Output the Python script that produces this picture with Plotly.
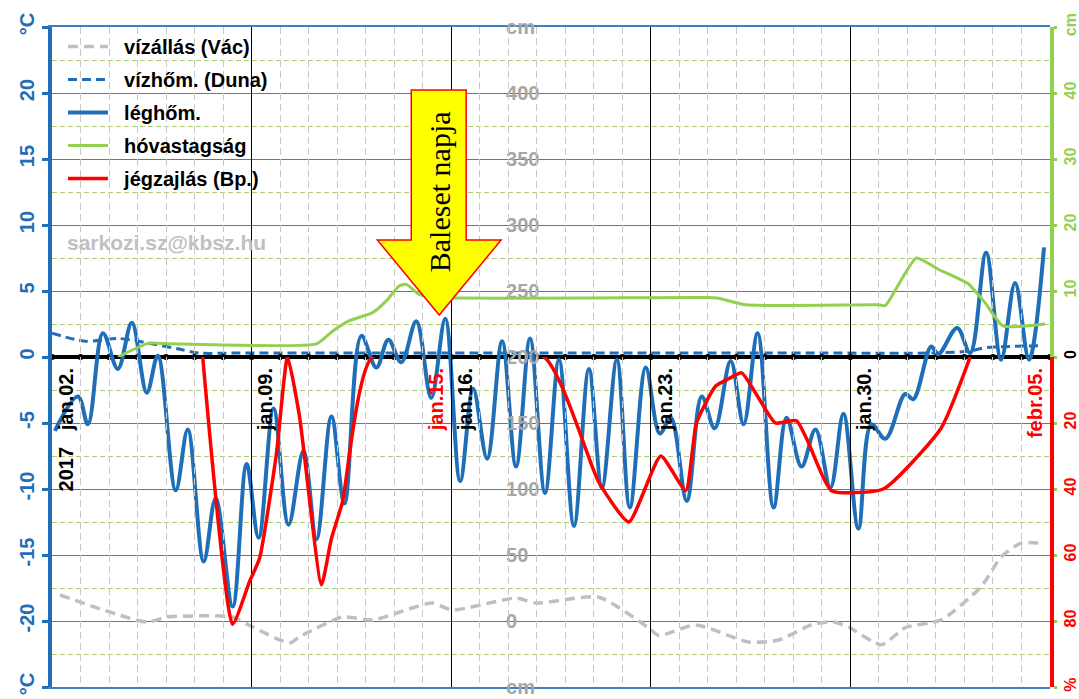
import plotly.graph_objects as go

# ---------------- data (x = day of January 2017, fractional) ----------------
air_day = [2.1, 2.91, 3.26, 3.785, 4.31, 4.80, 5.325, 5.71, 6.34, 6.76, 7.32, 7.74, 8.335, 8.825,
           9.245, 9.77, 10.295, 10.82, 11.275, 11.80, 12.255, 12.85, 13.375, 13.795, 14.25, 14.775,
           15.30, 15.79, 16.315, 16.77, 17.26, 17.785, 18.275, 18.765, 19.29, 19.78, 20.305, 20.83,
           21.285, 21.81, 22.265, 22.825, 23.315, 23.70, 24.26, 24.785, 25.24, 25.80, 26.255, 26.745,
           27.305, 27.76, 28.285, 28.775, 29.30, 29.755, 30.28, 30.735, 31.225, 31.925, 32.205, 32.835,
           33.08, 33.745, 34.20, 34.76, 35.285, 35.775, 36.265, 36.79]
air_temp = [-5.6, -3.0, -5.1, 1.8, -0.9, 2.6, -2.7, 0.1, -10.1, -5.5, -15.5, -10.7, -18.9, -8.1,
            -13.7, -3.9, -12.7, -7.1, -13.8, -4.5, -11.1, 1.6, -0.8, 1.3, -0.4, 2.7,
            -3.1, 2.9, -9.4, -2.4, -7.7, 1.2, -8.3, 1.4, -10.3, -0.2, -12.8, -0.9,
            -9.9, -0.2, -11.4, -0.8, -5.8, -4.6, -10.9, -3.0, -5.4, -0.3, -5.1, 1.8,
            -11.4, -4.6, -8.3, -5.5, -9.9, -4.3, -13.0, -5.1, -6.2, -2.8, -3.2, 0.8,
            0.2, 2.2, 0.3, 7.9, -0.2, 5.6, -0.2, 8.3]

water_temp_day = [2.0, 3.155, 4.345, 5.5, 6.445, 7.145, 8.5, 15.0, 22.0, 29.0, 32.8, 34.2, 34.7, 36.6]
water_temp = [1.8, 1.2, 1.4, 1.0, 0.6, 0.3, 0.3, 0.3, 0.3, 0.3, 0.3, 0.45, 0.7, 0.85]

snow_day = [4.31, 5.395, 6.13, 11.275, 11.835, 12.43, 13.235, 13.725, 14.18, 14.425, 14.88, 15.58,
            25.03, 25.38, 26.325, 30.98, 31.225, 32.31, 33.08, 34.13, 34.725, 35.355, 36.825]
snow_cm = [0, 2.1, 2.0, 2.0, 3.9, 5.5, 6.7, 8.5, 10.8, 11.0, 9.5, 9.0,
           9.0, 8.9, 7.9, 7.9, 7.8, 15.0, 13.3, 11.1, 8.2, 4.7, 5.0]

ice_day = [7.285, 8.335, 8.93, 9.28, 9.875, 10.26, 10.68, 11.45, 11.80, 12.185, 13.235, 19.255,
           21.18, 22.23, 23.35, 24.225, 24.6, 25.275, 25.73, 26.185, 26.78, 27.375, 28.11, 28.53,
           29.335, 31.155, 33.185, 34.20]
ice_pct = [0, 81, 68, 61, 29, 0, 18, 69, 55, 44, 0, 0,
           38, 50, 30, 40.5, 20, 8.8, 6.6, 4.8, 12.4, 20, 19.3, 26,
           40.5, 40, 21.5, 0]

level_day = [2.28, 5.325, 6.025, 8.335, 9.035, 10.33, 10.68, 12.185, 13.235, 15.335, 16.035, 18.275,
             18.975, 21.18, 22.93, 23.28, 24.575, 26.43, 27.48, 28.705, 29.405, 29.93, 31.085, 31.925,
             33.185, 34.585, 35.285, 35.985, 36.685]
level_cm = [19.7, -0.8, 3, 3, -4.5, -16.7, -12, 3, 0.8, 13.6, 8.3, 17.4,
            13.6, 18, -5.3, -11, -3, -15.9, -14.4, -2.3, -0.8, -4.5, -18, -5,
            0.8, 26, 48.5, 59, 59]

date_label_day = [2.5, 9.5, 15.5, 16.5, 23.5, 30.5, 36.5]
date_label_text = ["2017\u00a0\u00a0\u00a0jan.02.", "jan.09.",
                   "<span style='color:#FF0000'>jan.15.</span>", "jan.16.", "jan.23.", "jan.30.",
                   "<span style='color:#FF0000'>febr.05.</span>"]

temp_ticks = [-25, -20, -15, -10, -5, 0, 5, 10, 15, 20, 25]
temp_ticktext = ["°C", "-20", "-15", "-10", "-5", "0", "5", "10", "15", "20", "°C"]
temp_minor = [-22.5, -17.5, -12.5, -7.5, -2.5, 2.5, 7.5, 12.5, 17.5, 22.5]
snow_ticks = [0, 10, 20, 30, 40, 50]
snow_ticktext = ["<span style='color:#000000'>0</span>", "10", "20", "30", "40", "cm"]
ice_ticks = [20, 40, 60, 80, 100]
ice_ticktext = ["20", "40", "60", "80", "%"]
level_ticks = [-50, 0, 50, 100, 150, 200, 250, 300, 350, 400, 450]
level_ticktext = ["cm", "0", "50", "100", "150", "200", "250", "300", "350", "400", "cm"]
zero_days = list(range(2, 38))

# ---------------- styles ----------------
BLUE = "#1F6EB8"
GREEN = "#92D050"
RED = "#FF0000"
GRAY = "#BFBFBF"
SANS = "Liberation Sans"
PAD = "\u00a0\u00a0"   # gap between legend sample and legend text

fig = go.Figure()

fig.add_trace(go.Scatter(x=level_day, y=level_cm, yaxis="y4", mode="lines", name=PAD + "vízállás (Vác)",
                         line=dict(color=GRAY, width=3.5, dash="10px,6px", shape="spline", smoothing=0.6),
                         legendgroup="g1", legendrank=1, hoverinfo="skip"))
fig.add_trace(go.Scatter(x=water_temp_day, y=water_temp, mode="lines", name=PAD + "vízhőm. (Duna)",
                         line=dict(color=BLUE, width=3, dash="9px,5px", shape="spline", smoothing=0.8),
                         legendgroup="g2", legendrank=2, hoverinfo="skip"))
fig.add_trace(go.Scatter(x=zero_days, y=[0] * len(zero_days), mode="lines+markers", showlegend=False,
                         line=dict(color="black", width=4), marker=dict(color="black", size=6),
                         hoverinfo="skip"))
fig.add_trace(go.Scatter(x=air_day, y=air_temp, mode="lines", name=PAD + "léghőm.",
                         line=dict(color=BLUE, width=4, shape="spline", smoothing=1.0),
                         legendgroup="g3", legendrank=3, hoverinfo="skip"))
fig.add_trace(go.Scatter(x=snow_day, y=snow_cm, yaxis="y2", mode="lines", name=PAD + "hóvastagság",
                         line=dict(color=GREEN, width=3, shape="spline", smoothing=0.5),
                         legendgroup="g4", legendrank=4, hoverinfo="skip"))
fig.add_trace(go.Scatter(x=ice_day, y=ice_pct, yaxis="y3", mode="lines", name=PAD + "jégzajlás (Bp.)",
                         line=dict(color=RED, width=3.5, shape="spline", smoothing=0.5),
                         legendgroup="g5", legendrank=5, hoverinfo="skip"))
# helper trace so the date-label axis is rendered
fig.add_trace(go.Scatter(x=[None], y=[None], xaxis="x3", showlegend=False, hoverinfo="skip"))

label_font = dict(family=SANS, size=20, weight="bold")

fig.update_layout(
    width=1079, height=699,
    margin=dict(l=52, r=29, t=27, b=12, pad=0, autoexpand=False),
    plot_bgcolor="rgba(0,0,0,0)", paper_bgcolor="white",
    showlegend=True,
    legend=dict(x=0.011, y=1.0, xanchor="left", yanchor="top", bgcolor="rgba(0,0,0,0)",
                font=dict(family=SANS, size=20, color="black", weight="bold"),
                traceorder="grouped", tracegroupgap=4, itemwidth=40),
    xaxis=dict(domain=[0, 1], range=[2, 37], tickmode="linear", tick0=2, dtick=7,
               showgrid=True, gridcolor="#000000", gridwidth=1,
               minor=dict(tickmode="linear", tick0=2, dtick=1, showgrid=True, gridcolor="#C8C8C8",
                          griddash="7px,4px", gridwidth=1, ticks=""),
               showticklabels=False, ticks="", zeroline=False, automargin=False,
               showline=True, mirror=True, linecolor="#3C80C2", linewidth=1.5),
    xaxis3=dict(overlaying="x", anchor="free", position=0.5, side="bottom", range=[2, 37],
                tickmode="array", tickvals=date_label_day, ticktext=date_label_text, tickangle=-90,
                tickfont=dict(color="black", **label_font), showgrid=False, ticks="",
                ticklabelstandoff=6, zeroline=False, showline=False, automargin=False),
    yaxis=dict(anchor="x", range=[-25, 25], tickmode="array", tickvals=temp_ticks, ticktext=temp_ticktext,
               tickangle=-90, tickfont=dict(color=BLUE, **label_font), automargin=False,
               showline=True, linecolor=BLUE, linewidth=4, ticks="outside", ticklen=6, tickwidth=3,
               tickcolor=BLUE, showgrid=True, gridcolor="#3C80C2", gridwidth=1.3, zeroline=False,
               minor=dict(tickmode="array", tickvals=temp_minor, showgrid=True, gridcolor="#AFC97A",
                          griddash="5px,3px", gridwidth=1, ticks="")),
    yaxis2=dict(anchor="x", domain=[0.5, 1], range=[0, 50], side="right", tickmode="array",
                tickvals=snow_ticks, ticktext=snow_ticktext, tickangle=-90, automargin=False,
                tickfont=dict(color=GREEN, family=SANS, size=16, weight="bold"), ticklabelstandoff=0,
                showline=True, linecolor=GREEN, linewidth=4, ticks="outside", ticklen=3, tickwidth=3,
                tickcolor=GREEN, showgrid=False, zeroline=False),
    yaxis3=dict(anchor="x", domain=[0, 0.5], range=[100, 0], side="right", tickmode="array",
                tickvals=ice_ticks, ticktext=ice_ticktext, tickangle=-90, automargin=False,
                tickfont=dict(color=RED, family=SANS, size=16, weight="bold"), ticklabelstandoff=0,
                showline=True, linecolor=RED, linewidth=4, ticks="outside", ticklen=3, tickwidth=3,
                tickcolor=GREEN, showgrid=False, zeroline=False),
    yaxis4=dict(overlaying="y", anchor="free", position=0.454, side="right", range=[-50, 450],
                tickmode="array", tickvals=level_ticks, ticktext=level_ticktext, automargin=False,
                tickfont=dict(color="#A6A6A6", **label_font), showgrid=False, zeroline=False,
                showline=False, ticks=""),
)

# watermark
fig.add_annotation(xref="paper", yref="paper", x=0.115, y=0.674, xanchor="center", yanchor="middle",
                   text="sarkozi.sz@kbsz.hu", showarrow=False,
                   font=dict(family=SANS, size=21, color="#C0C0C0", weight="bold"))

# "accident day" arrow
fig.add_shape(type="path", xref="paper", yref="paper", layer="above",
              path="M0.360,0.9045 L0.415,0.9045 L0.415,0.6773 L0.450,0.6773 L0.388,0.5636 "
                   "L0.326,0.6773 L0.360,0.6773 Z",
              fillcolor="#FFFF00", line=dict(color="#FF0000", width=1.5))
fig.add_annotation(xref="paper", yref="paper", x=0.388, y=0.75, xanchor="center", yanchor="middle",
                   text="Baleset napja", textangle=-90, showarrow=False,
                   font=dict(family="Liberation Serif", size=30, color="black"))

fig.write_html("out.html", config={"displayModeBar": False},
               post_script="document.body.style.margin='0';document.body.style.overflow='hidden';")
